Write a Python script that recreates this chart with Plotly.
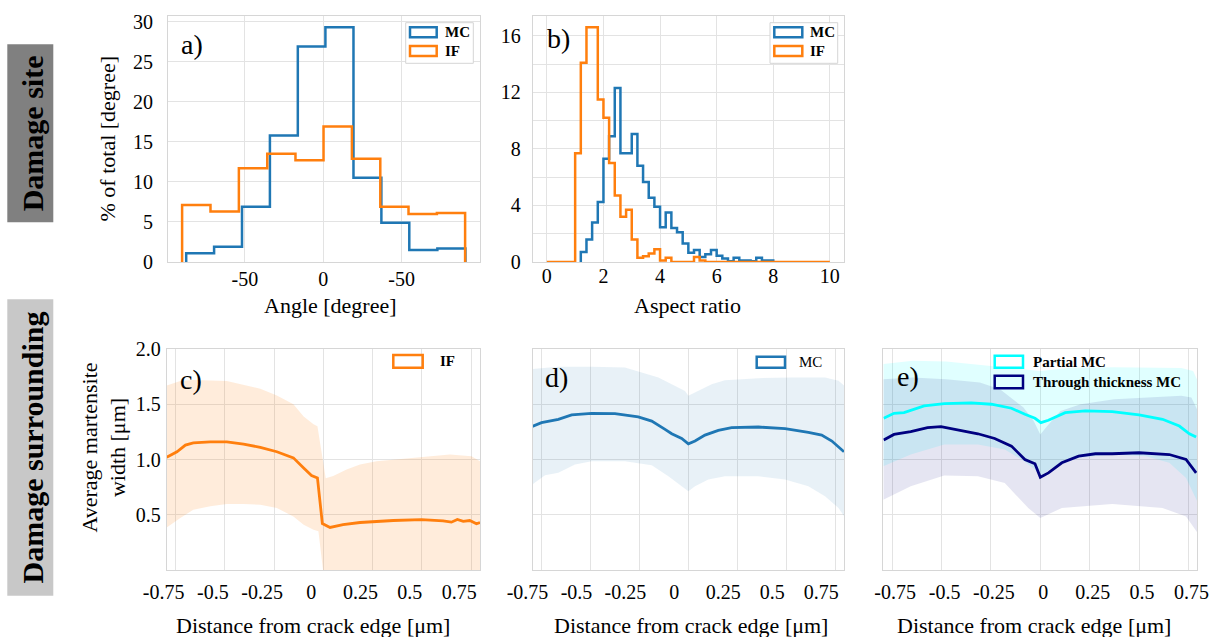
import plotly.graph_objects as go

W, H = 1215, 637
FONT = "Liberation Serif, Times New Roman, serif"

# ---------------- data ----------------
# a) angle histograms (% of total per bin)
angle_mc_edges = [-87.4, -69.6, -51.8, -34.0, -16.2, 1.4, 19.3, 37.1, 54.9, 72.8, 90.7]
angle_mc_pct = [1.1, 1.9, 6.9, 15.8, 26.9, 29.3, 10.5, 4.9, 1.5, 1.7]
angle_if_edges = [-90.0, -71.9, -53.8, -35.7, -17.7, 0.2, 18.3, 36.4, 54.4, 72.5, 90.5]
angle_if_pct = [7.1, 6.3, 11.7, 13.5, 12.7, 16.9, 12.9, 6.9, 6.0, 6.1]
angle_ticks = [-50, 0, 50]
angle_ticktext = ["-50", "0", "-50"]

# b) aspect ratio histograms (% of total per bin)
ar_if_edges = [0.0, 0.2, 0.4, 0.6, 0.8, 1.0, 1.2, 1.4, 1.6, 1.8, 2.0, 2.2, 2.4, 2.6, 2.8,
               3.0, 3.2, 3.4, 3.6, 3.8, 4.0, 4.2, 4.4, 4.6, 4.8, 5.0, 5.2, 5.4, 5.6, 5.8,
               6.0, 6.2, 6.4, 6.6, 6.8, 7.0, 7.2, 7.4, 7.6, 7.8, 8.0, 8.2, 8.4, 8.6, 8.8,
               9.0, 9.2, 9.4, 9.6, 9.8, 10.0]
ar_if_pct = [0, 0, 0, 0, 0, 7.7, 14.1, 16.6, 16.6, 11.5, 10.2, 7.0, 4.7, 3.2, 3.7,
             1.6, 0.3, 0.4, 0.6, 0.9, 0.1, 0.3, 0, 0, 0, 0, 0.35, 0.1, 0, 0,
             0, 0, 0, 0, 0, 0, 0, 0, 0, 0, 0, 0, 0, 0, 0,
             0, 0, 0, 0, 0]
ar_mc_edges = [1.2, 1.4, 1.6, 1.8, 2.0, 2.2, 2.4, 2.6, 2.8, 3.0, 3.2, 3.4, 3.6, 3.8,
               4.0, 4.2, 4.4, 4.6, 4.8, 5.0, 5.2, 5.4, 5.6, 5.8, 6.0, 6.2, 6.4, 6.6,
               6.8, 7.0, 7.2, 7.4, 7.6, 7.8, 8.0]
ar_mc_pct = [0.7, 1.6, 2.8, 4.25, 7.3, 8.9, 12.3, 7.7, 7.7, 9.05, 6.8, 5.65, 4.55, 3.9,
             2.45, 3.5, 2.4, 2.1, 1.3, 0.65, 0.85, 0.35, 0.55, 0.85, 0.45, 0.25, 0.05, 0.3,
             0.1, 0.1, 0.05, 0.3, 0.1, 0.1]
ar_xticks = [0, 2, 4, 6, 8, 10]
ar_yticks = [0, 2, 4, 6, 8, 10, 12, 14, 16]
ar_yticktext = ["0", "", "4", "", "8", "", "12", "", "16"]

# c) IF: average martensite width vs distance from crack edge
if_x = [-0.795, -0.743, -0.70, -0.66, -0.574, -0.49, -0.405, -0.32, -0.236, -0.152, -0.10,
        -0.06, -0.03, -0.005, 0.034, 0.10, 0.186, 0.355, 0.498, 0.608, 0.65, 0.68, 0.71,
        0.743, 0.777, 0.795]
if_mean = [1.02, 1.07, 1.13, 1.15, 1.16, 1.16, 1.14, 1.11, 1.07, 1.015, 0.924,
           0.855, 0.833, 0.42, 0.385, 0.41, 0.43, 0.448, 0.455, 0.445, 0.433, 0.458, 0.44,
           0.448, 0.418, 0.43]
if_up_x = [-0.795, -0.726, -0.66, -0.49, -0.32, -0.236, -0.152, -0.10, -0.05, -0.03, 0.012,
           0.05, 0.118, 0.186, 0.27, 0.355, 0.524, 0.642, 0.752, 0.777, 0.795]
if_up = [1.67, 1.71, 1.72, 1.71, 1.64, 1.58, 1.50, 1.39, 1.32, 1.30, 0.83,
         0.85, 0.91, 0.955, 0.985, 1.0, 1.03, 1.045, 1.03, 1.0, 0.985]
if_lo_x = [-0.795, -0.726, -0.66, -0.574, -0.49, -0.405, -0.32, -0.236, -0.152, -0.10,
           -0.05, -0.025, 0.005, 0.795]
if_lo = [0.385, 0.47, 0.545, 0.576, 0.597, 0.597, 0.59, 0.56, 0.485, 0.41,
         0.364, 0.35, -0.1, -0.1]

# d) MC
mc_x = [-0.797, -0.75, -0.664, -0.596, -0.494, -0.375, -0.256, -0.187, -0.119, -0.085,
        -0.034, 0.0, 0.034, 0.085, 0.153, 0.221, 0.358, 0.494, 0.613, 0.681, 0.733, 0.795]
mc_mean = [1.30, 1.333, 1.364, 1.403, 1.418, 1.415, 1.385, 1.348, 1.273, 1.233,
           1.19, 1.142, 1.167, 1.221, 1.264, 1.288, 1.294, 1.279, 1.245, 1.221, 1.167, 1.07]
mc_up_x = [-0.797, -0.664, -0.494, -0.324, -0.153, -0.068, -0.017, 0.0, 0.051, 0.119,
           0.187, 0.358, 0.528, 0.698, 0.767, 0.796]
mc_up = [1.818, 1.84, 1.84, 1.833, 1.742, 1.667, 1.62, 1.576, 1.62, 1.68,
         1.718, 1.736, 1.742, 1.742, 1.712, 1.667]
mc_lo_x = [-0.797, -0.732, -0.664, -0.579, -0.494, -0.324, -0.187, -0.102, -0.034, 0.0,
           0.034, 0.102, 0.187, 0.358, 0.494, 0.613, 0.698, 0.767, 0.796]
mc_lo = [0.773, 0.858, 0.879, 0.955, 0.985, 0.985, 0.948, 0.848, 0.758, 0.712,
         0.758, 0.818, 0.848, 0.848, 0.818, 0.758, 0.667, 0.56, 0.485]

# e) Partial MC / Through thickness MC
pmc_x = [-0.793, -0.741, -0.69, -0.588, -0.486, -0.35, -0.248, -0.146, -0.078, -0.027,
         0.003, 0.041, 0.126, 0.228, 0.364, 0.5, 0.619, 0.704, 0.755, 0.789]
pmc_mean = [1.373, 1.418, 1.424, 1.485, 1.506, 1.512, 1.5, 1.464, 1.409, 1.373,
            1.333, 1.355, 1.424, 1.44, 1.433, 1.403, 1.364, 1.303, 1.233, 1.203]
pmc_up_x = [-0.795, -0.646, -0.476, -0.306, -0.15, 0.0, 0.15, 0.374, 0.714, 0.774, 0.795]
pmc_up = [1.864, 1.894, 1.888, 1.858, 1.83, 1.80, 1.83, 1.835, 1.827, 1.80, 1.72]
pmc_lo_x = [-0.795, -0.656, -0.486, -0.316, -0.18, -0.095, -0.027, 0.0, 0.058, 0.194,
            0.364, 0.534, 0.653, 0.738, 0.795]
pmc_lo = [0.939, 1.045, 1.136, 1.136, 1.09, 1.0, 0.909, 0.848, 0.924, 1.015,
          1.045, 1.03, 0.97, 0.833, 0.62]

tmc_x = [-0.793, -0.741, -0.656, -0.571, -0.503, -0.401, -0.316, -0.231, -0.146, -0.078,
         -0.027, 0.0, 0.041, 0.109, 0.194, 0.279, 0.364, 0.5, 0.653, 0.738, 0.789]
tmc_mean = [1.176, 1.227, 1.252, 1.288, 1.297, 1.264, 1.233, 1.19, 1.121, 1.0,
            0.961, 0.839, 0.879, 0.97, 1.03, 1.052, 1.052, 1.061, 1.045, 1.0, 0.879]
tmc_up_x = [-0.795, -0.646, -0.476, -0.306, -0.204, -0.136, -0.085, -0.034, 0.0, 0.034,
            0.102, 0.204, 0.374, 0.544, 0.714, 0.765, 0.795]
tmc_up = [1.727, 1.742, 1.727, 1.697, 1.636, 1.545, 1.47, 1.35, 1.227, 1.30,
          1.44, 1.5, 1.545, 1.56, 1.576, 1.56, 1.45]
tmc_lo_x = [-0.795, -0.656, -0.486, -0.316, -0.18, -0.061, 0.0, 0.109, 0.364, 0.619,
            0.738, 0.795]
tmc_lo = [0.636, 0.758, 0.855, 0.848, 0.788, 0.56, 0.47, 0.56, 0.597, 0.56,
          0.485, 0.34]

dist_ticks = [-0.75, -0.5, -0.25, 0, 0.25, 0.5, 0.75]
dist_ticktext = ["-0.75", "-0.5", "-0.25", "0", "0.25", "0.5", "0.75"]
width_ticks = [0.5, 1.0, 1.5, 2.0]
width_ticktext = ["0.5", "1.0", "1.5", "2.0"]

# ---------------- styling ----------------
C_MC = "#1f77b4"
C_IF = "#ff7f0e"
C_PMC = "#00ffff"
C_TMC = "#000080"
GRID = "#e3e3e3"
FRAME = "#d6d6d6"


def P(px):
    return px / W


def Q(py):
    return 1 - py / H


def step_xy(edges, vals):
    xs = [edges[0]] + list(edges[:-1]) + [edges[-1]]
    ys = [0] + list(vals) + [0]
    return xs, ys


def band_xy(ux, uy, lx, ly):
    return list(ux) + list(lx)[::-1], list(uy) + list(ly)[::-1]


fig = go.Figure()

# a)
for edges, vals, col in [(angle_mc_edges, angle_mc_pct, C_MC), (angle_if_edges, angle_if_pct, C_IF)]:
    xs, ys = step_xy(edges, vals)
    fig.add_trace(go.Scatter(x=xs, y=ys, mode="lines", line=dict(color=col, width=2.5, shape="hv"),
                             xaxis="x", yaxis="y", showlegend=False, hoverinfo="skip"))
# b)
for edges, vals, col in [(ar_mc_edges, ar_mc_pct, C_MC), (ar_if_edges, ar_if_pct, C_IF)]:
    xs, ys = step_xy(edges, vals)
    fig.add_trace(go.Scatter(x=xs, y=ys, mode="lines", line=dict(color=col, width=2.5, shape="hv"),
                             xaxis="x2", yaxis="y2", showlegend=False, hoverinfo="skip"))

# c)
bx, by = band_xy(if_up_x, if_up, if_lo_x, if_lo)
fig.add_trace(go.Scatter(x=bx, y=by, fill="toself", fillcolor="rgba(255,127,14,0.15)",
                         line=dict(width=0), mode="lines", xaxis="x3", yaxis="y3",
                         showlegend=False, hoverinfo="skip"))
fig.add_trace(go.Scatter(x=if_x, y=if_mean, mode="lines", line=dict(color=C_IF, width=2.8),
                         xaxis="x3", yaxis="y3", showlegend=False, hoverinfo="skip"))
# d)
bx, by = band_xy(mc_up_x, mc_up, mc_lo_x, mc_lo)
fig.add_trace(go.Scatter(x=bx, y=by, fill="toself", fillcolor="rgba(31,119,180,0.10)",
                         line=dict(width=0), mode="lines", xaxis="x4", yaxis="y4",
                         showlegend=False, hoverinfo="skip"))
fig.add_trace(go.Scatter(x=mc_x, y=mc_mean, mode="lines", line=dict(color=C_MC, width=2.8),
                         xaxis="x4", yaxis="y4", showlegend=False, hoverinfo="skip"))
# e)
bx, by = band_xy(pmc_up_x, pmc_up, pmc_lo_x, pmc_lo)
fig.add_trace(go.Scatter(x=bx, y=by, fill="toself", fillcolor="rgba(0,255,255,0.12)",
                         line=dict(width=0), mode="lines", xaxis="x5", yaxis="y5",
                         showlegend=False, hoverinfo="skip"))
bx, by = band_xy(tmc_up_x, tmc_up, tmc_lo_x, tmc_lo)
fig.add_trace(go.Scatter(x=bx, y=by, fill="toself", fillcolor="rgba(0,0,128,0.10)",
                         line=dict(width=0), mode="lines", xaxis="x5", yaxis="y5",
                         showlegend=False, hoverinfo="skip"))
fig.add_trace(go.Scatter(x=pmc_x, y=pmc_mean, mode="lines", line=dict(color=C_PMC, width=2.8),
                         xaxis="x5", yaxis="y5", showlegend=False, hoverinfo="skip"))
fig.add_trace(go.Scatter(x=tmc_x, y=tmc_mean, mode="lines", line=dict(color=C_TMC, width=2.8),
                         xaxis="x5", yaxis="y5", showlegend=False, hoverinfo="skip"))

TICKFONT = dict(family=FONT, size=20, color="black")


def axis(domain, rng, tickvals, ticktext, anchor, standoff, shift=0, show=True):
    return dict(domain=domain, range=rng, tickvals=tickvals, ticktext=ticktext, anchor=anchor,
                showgrid=True, gridcolor=GRID, gridwidth=1, showline=True, mirror=True,
                linecolor=FRAME, linewidth=1, zeroline=False, ticks="", automargin=False,
                tickfont=TICKFONT, ticklabelstandoff=standoff, ticklabelshift=shift,
                showticklabels=show, fixedrange=True)


top_y = [Q(262), Q(16)]
bot_y = [Q(570), Q(349)]
dom_a = [P(168), P(480)]
dom_b = [P(532.7), P(844)]
dom_c = [P(166.7), P(480)]
dom_d = [P(532.7), P(844)]
dom_e = [P(883.3), P(1197.3)]
DR = [-0.795, 0.795]

fig.update_layout(
    width=W, height=H, autosize=False,
    margin=dict(l=0, r=0, t=0, b=0, pad=0, autoexpand=False),
    paper_bgcolor="white", plot_bgcolor="white",
    showlegend=False, hovermode=False,
    font=dict(family=FONT, color="black"),
    xaxis=axis(dom_a, [-99, 100], angle_ticks, angle_ticktext, "y", -1),
    yaxis=axis(top_y, [0, 30.7], [0, 5, 10, 15, 20, 25, 30], ["0", "5", "10", "15", "20", "25", "30"], "x", 10),
    xaxis2=axis(dom_b, [-0.5, 10.5], ar_xticks, [str(v) for v in ar_xticks], "y2", -4),
    yaxis2=axis(top_y, [0, 17.4], ar_yticks, ar_yticktext, "x2", 7),
    xaxis3=axis(dom_c, DR, dist_ticks, dist_ticktext, "y3", 4, -12),
    yaxis3=axis(bot_y, [0, 2.0], width_ticks, width_ticktext, "x3", 1),
    xaxis4=axis(dom_d, DR, dist_ticks, dist_ticktext, "y4", 4, -14),
    yaxis4=axis(bot_y, [0, 2.0], width_ticks, width_ticktext, "x4", 1, show=False),
    xaxis5=axis(dom_e, DR, dist_ticks, dist_ticktext, "y5", 4, 3),
    yaxis5=axis(bot_y, [0, 2.0], width_ticks, width_ticktext, "x5", 1, show=False),
)

shapes = []
annotations = []


def rect(x0, y0, x1, y1, fill="rgba(0,0,0,0)", line=None, lw=0, layer="above"):
    shapes.append(dict(type="rect", xref="paper", yref="paper", x0=P(x0), x1=P(x1),
                       y0=Q(y1), y1=Q(y0), fillcolor=fill,
                       line=dict(color=line or "rgba(0,0,0,0)", width=lw), layer=layer))


def text(t, x, y, size, xanchor="center", angle=0, bold=False):
    annotations.append(dict(text=("<b>%s</b>" % t) if bold else t, xref="paper", yref="paper",
                            x=P(x), y=Q(y), xanchor=xanchor, yanchor="middle", showarrow=False,
                            textangle=angle, font=dict(family=FONT, size=size, color="black")))


# row label boxes
rect(7.3, 44.3, 53.3, 222.3, fill="#808080", layer="below")
rect(7.3, 299.3, 53.3, 595.7, fill="#c8c8c8", layer="below")
text("Damage site", 32, 133.3, 30, angle=-90, bold=True)
text("Damage surrounding", 32, 447.5, 30, angle=-90, bold=True)

# axis titles
text("Angle [degree]", 330, 305, 22)
text("Aspect ratio", 687.5, 305, 22)
text("% of total [degree]", 107, 138.5, 22, angle=-90)
text("Average martensite<br>width [μm]", 103, 447.5, 22, angle=-90)
text("Distance from crack edge [μm]", 313.3, 625, 22)
text("Distance from crack edge [μm]", 690.8, 625, 22)
text("Distance from crack edge [μm]", 1034, 625, 22)

# panel letters
text("a)", 179, 44, 28, xanchor="left")
text("b)", 545, 39, 28, xanchor="left")
text("c)", 178.3, 379, 28, xanchor="left")
text("d)", 543.3, 377, 28, xanchor="left")
text("e)", 894.7, 376, 28, xanchor="left")

# legends (drawn manually, matplotlib-style patch boxes)
rect(405.7, 22.7, 473.3, 63.3, fill="white", line="#d5d5d5", lw=1)
rect(410, 27.3, 436.7, 37.3, line=C_MC, lw=2.5)
rect(410, 46, 436.7, 56, line=C_IF, lw=2.5)
text("MC", 443, 32.3, 15, xanchor="left", bold=True)
text("IF", 443, 51, 15, xanchor="left", bold=True)

rect(770, 22.7, 837.7, 63.3, fill="white", line="#d5d5d5", lw=1)
rect(774.3, 27.3, 802.3, 37.3, line=C_MC, lw=2.5)
rect(774.3, 46, 802.3, 56, line=C_IF, lw=2.5)
text("MC", 808.3, 32.3, 15, xanchor="left", bold=True)
text("IF", 808.3, 51, 15, xanchor="left", bold=True)

rect(393.3, 355, 422.7, 367.7, line=C_IF, lw=2.5)
text("IF", 438.3, 361.3, 15, xanchor="left", bold=True)

rect(756.7, 356.7, 785, 367.7, line=C_MC, lw=2.5)
text("MC", 796.7, 362.2, 15, xanchor="left")

rect(994.7, 355.7, 1023, 367.7, line=C_PMC, lw=2.5)
rect(994.7, 375.7, 1023, 388.3, line=C_TMC, lw=2.5)
text("Partial MC", 1031.3, 361.7, 15, xanchor="left", bold=True)
text("Through thickness MC", 1031.3, 382.3, 15, xanchor="left", bold=True)

fig.update_layout(shapes=shapes, annotations=annotations)
fig.write_html("out.html",
               config={"displayModeBar": False, "staticPlot": True},
               post_script="document.body.style.margin='0';document.body.style.overflow='hidden';")
